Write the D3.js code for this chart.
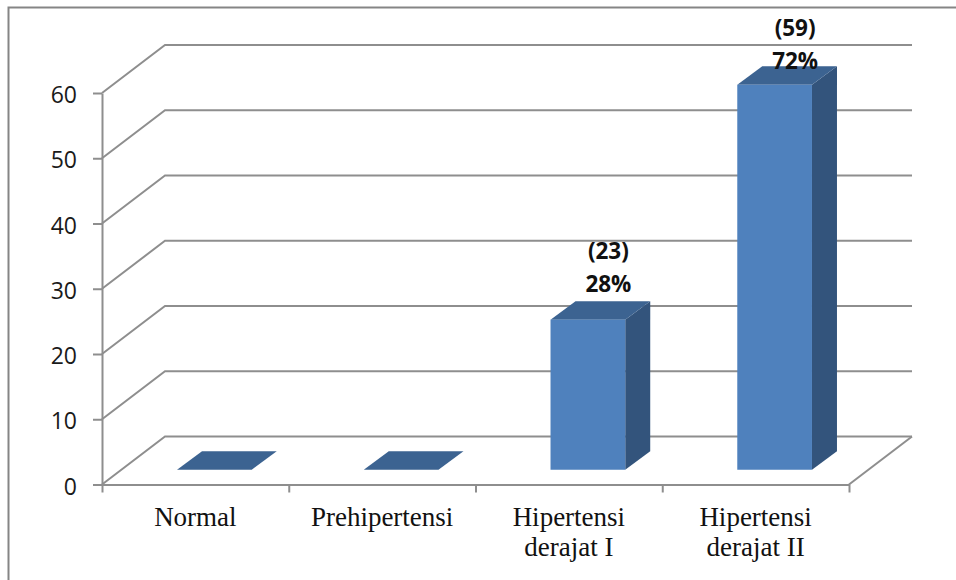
<!DOCTYPE html>
<html>
<head>
<meta charset="utf-8">
<script src="https://cdn.jsdelivr.net/npm/d3@7"></script>
<style>
  html, body { margin: 0; padding: 0; background: #fff; }
  svg { display: block; }
</style>
</head>
<body>
<div id="area"></div>
<script>
const categories = ["Normal", "Prehipertensi", "Hipertensi derajat I", "Hipertensi derajat II"];
const categoryLines = [["Normal"], ["Prehipertensi"], ["Hipertensi", "derajat I"], ["Hipertensi", "derajat II"]];
const values = [0, 0, 23, 59];
const countLabels = ["", "", "(23)", "(59)"];
const percentLabels = ["", "", "28%", "72%"];
const yTicks = [0, 10, 20, 30, 40, 50, 60];

const width = 956;
const height = 580;
const plot = { left: 102, right: 849, top: 93, bottom: 484.5 };
const wall = { dx: 63, dy: -48 };
const depth = { dx: 25, dy: -18.5 };
const gridColor = "#8e8e8e";

const x = d3
  .scaleBand()
  .domain(categories)
  .range([plot.left, plot.right])
  .paddingInner(0.6)
  .paddingOuter(0.3);

const y = d3
  .scaleLinear()
  .domain([0, 60])
  .range([plot.bottom, plot.top]);

// ticks sit on the band edges, not the centres
const edges = d3
  .scaleLinear()
  .domain([0, categories.length])
  .range([plot.left, plot.right]);

const svg = d3
  .select("#area")
  .append("svg")
  .attr("width", width)
  .attr("height", height);

// Outer frame, only top and left are in the picture
svg
  .append("path")
  .attr("fill", "none")
  .attr("stroke", "#858585")
  .attr("stroke-width", 2)
  .attr("d", `M${width},7.5H8.5V${height}`);

// Back wall gridlines with their side slant
svg
  .append("g")
  .selectAll("path")
  .data(yTicks)
  .join("path")
  .attr("fill", "none")
  .attr("stroke", gridColor)
  .attr("stroke-width", 2)
  .attr("d", (d) => `M${plot.left},${y(d)}l${wall.dx},${wall.dy}H${plot.right + wall.dx}`);

// Floor edge on the right
svg
  .append("path")
  .attr("fill", "none")
  .attr("stroke", gridColor)
  .attr("stroke-width", 2)
  .attr("d", `M${plot.right},${y(0)}l${wall.dx},${wall.dy}`);

// Add y-axis
const yAxis = svg
  .append("g")
  .attr("transform", `translate(${plot.left}, 0)`)
  .call(d3.axisLeft(y).tickValues(yTicks).tickSize(9).tickSizeOuter(0).tickPadding(16));
yAxis.selectAll("path, line").attr("stroke", gridColor).attr("stroke-width", 2);
yAxis
  .selectAll("text")
  .attr("font-family", "'Open Sans'")
  .attr("font-size", 23)
  .attr("fill", "#1a1a1a")
  .attr("dy", "0.42em");

// Add x-axis
const xAxis = svg
  .append("g")
  .attr("transform", `translate(0, ${plot.bottom})`)
  .call(d3.axisBottom(edges).ticks(categories.length).tickSize(8).tickSizeOuter(0).tickFormat(""));
xAxis.selectAll("path, line").attr("stroke", gridColor).attr("stroke-width", 2);

// Category labels
svg
  .append("g")
  .selectAll("text")
  .data(categories)
  .join("text")
  .attr("text-anchor", "middle")
  .attr("font-family", "'Liberation Serif'")
  .attr("font-size", 27)
  .attr("fill", "#111")
  .selectAll("tspan")
  .data((d, i) => categoryLines[i].map((line, k) => ({ cat: d, line, k })))
  .join("tspan")
  .attr("x", (d) => x(d.cat) + x.bandwidth() / 2)
  .attr("y", (d) => 525.5 + d.k * 30)
  .text((d) => d.line);

// Bars stand in the middle of the floor
const barShift = { dx: (wall.dx - depth.dx) / 2, dy: (wall.dy - depth.dy) / 2 };
const w = x.bandwidth();
const bars = svg
  .append("g")
  .attr("transform", `translate(${barShift.dx}, ${barShift.dy})`)
  .selectAll("g")
  .data(categories)
  .join("g");

bars
  .append("path")
  .attr("fill", "#33547c")
  .attr("d", (d, i) => `M${x(d) + w},${y(values[i])}l${depth.dx},${depth.dy}V${y(0) + depth.dy}l${-depth.dx},${-depth.dy}Z`);

bars
  .append("path")
  .attr("fill", "#3c6391")
  .attr("d", (d, i) => `M${x(d)},${y(values[i])}l${depth.dx},${depth.dy}h${w}l${-depth.dx},${-depth.dy}Z`);

bars
  .append("rect")
  .attr("fill", "#4f81bd")
  .attr("x", (d) => x(d))
  .attr("y", (d, i) => y(values[i]))
  .attr("width", w)
  .attr("height", (d, i) => y(0) - y(values[i]));

// Data labels, two lines over each non-empty bar; the tall bar's labels stop at the chart top
const percentBaseline = (v) => Math.max(y(v) - 42, 69);
const labels = svg
  .append("g")
  .attr("font-family", "'Open Sans'")
  .attr("font-weight", 700)
  .attr("font-size", 22.5)
  .attr("fill", "#111")
  .attr("text-anchor", "middle");

labels
  .selectAll("text.count")
  .data(categories)
  .join("text")
  .attr("class", "count")
  .attr("x", (d) => x(d) + w / 2 + 39.5)
  .attr("y", (d, i) => percentBaseline(values[i]) - 33)
  .text((d, i) => countLabels[i]);

labels
  .selectAll("text.percent")
  .data(categories)
  .join("text")
  .attr("class", "percent")
  .attr("x", (d) => x(d) + w / 2 + 39.5)
  .attr("y", (d, i) => percentBaseline(values[i]))
  .text((d, i) => percentLabels[i]);
</script>
</body>
</html>
